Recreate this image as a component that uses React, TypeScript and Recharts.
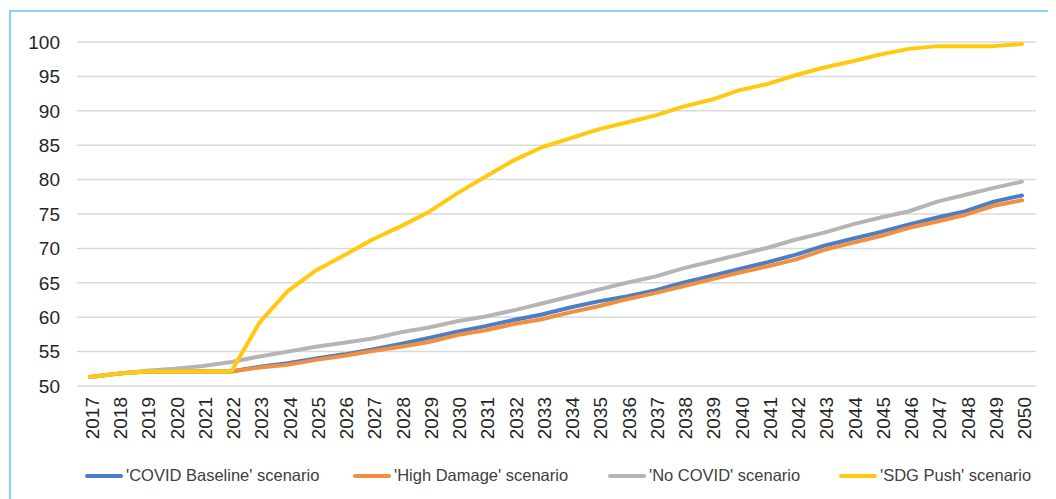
import React from 'react';
import { LineChart, Line, XAxis, YAxis, CartesianGrid, Legend } from 'recharts';

const years = [
  '2017', '2018', '2019', '2020', '2021', '2022', '2023', '2024', '2025', '2026', '2027', '2028',
  '2029', '2030', '2031', '2032', '2033', '2034', '2035', '2036', '2037', '2038', '2039', '2040',
  '2041', '2042', '2043', '2044', '2045', '2046', '2047', '2048', '2049', '2050',
];

const covidBaseline = [
  51.3, 51.8, 52.1, 52.1, 52.1, 52.1, 52.8, 53.3, 54.0, 54.6, 55.3, 56.1, 57.0, 57.9, 58.7, 59.6, 60.4,
  61.4, 62.3, 63.0, 63.9, 65.0, 66.0, 67.0, 68.0, 69.1, 70.4, 71.4, 72.4, 73.5, 74.5, 75.4, 76.8, 77.7,
];
const highDamage = [
  51.3, 51.8, 52.1, 52.1, 52.1, 52.1, 52.7, 53.1, 53.8, 54.4, 55.1, 55.7, 56.4, 57.4, 58.1, 59.0, 59.7,
  60.7, 61.6, 62.6, 63.5, 64.5, 65.5, 66.5, 67.4, 68.4, 69.8, 70.8, 71.8, 73.0, 73.9, 74.9, 76.2, 77.0,
];
const noCovid = [
  51.3, 51.8, 52.2, 52.5, 52.9, 53.5, 54.3, 55.0, 55.7, 56.3, 56.9, 57.8, 58.5, 59.4, 60.1, 61.0, 62.0,
  63.0, 64.0, 65.0, 65.9, 67.1, 68.1, 69.1, 70.1, 71.3, 72.3, 73.5, 74.5, 75.4, 76.8, 77.8, 78.8, 79.7,
];
const sdgPush = [
  51.3, 51.8, 52.1, 52.1, 52.1, 52.1, 59.2, 63.8, 66.8, 69.0, 71.3, 73.2, 75.3, 78.0, 80.4, 82.8, 84.7,
  86.0, 87.3, 88.3, 89.3, 90.6, 91.6, 93.0, 93.9, 95.2, 96.3, 97.2, 98.2, 99.0, 99.4, 99.4, 99.4, 99.7,
];

const yTicks = [50, 55, 60, 65, 70, 75, 80, 85, 90, 95, 100];

const series = [
  { key: 'baseline', name: "'COVID Baseline' scenario", color: '#4a7ec7' },
  { key: 'damage', name: "'High Damage' scenario", color: '#f28e3f' },
  { key: 'nocovid', name: "'No COVID' scenario", color: '#b5b5b5' },
  { key: 'sdg', name: "'SDG Push' scenario", color: '#ffc90e' },
];

const legendSlots = [268, 255, 231, 200];

const data = years.map((year, i) => ({
  year,
  baseline: covidBaseline[i],
  damage: highDamage[i],
  nocovid: noCovid[i],
  sdg: sdgPush[i],
}));

const FONT = '"Liberation Sans", Arial, Helvetica, sans-serif';

const YearTick = (props: any) => {
  const { x, y, payload } = props;
  return (
    <g transform={`translate(${x},${y})`}>
      <text transform="rotate(-90)" x={0} y={0} dy={9} textAnchor="end" fill="#262626" fontSize={19} fontFamily={FONT}>
        {payload.value}
      </text>
    </g>
  );
};

const LegendContent = () => (
  <div style={{ display: 'flex', alignItems: 'center', paddingLeft: 77, fontFamily: FONT, fontSize: 16.5, color: '#404040' }}>
    {series.map((s, i) => (
      <div key={s.key} style={{ display: 'flex', alignItems: 'center', width: legendSlots[i], whiteSpace: 'nowrap' }}>
        <span style={{ display: 'inline-block', width: 38, height: 4, borderRadius: 2, background: s.color, marginRight: 3 }} />
        <span>{s.name}</span>
      </div>
    ))}
  </div>
);

export default function App() {
  return (
    <div style={{ position: 'relative', width: 1048, height: 491 }}>
      <div
        style={{
          position: 'absolute',
          left: 1,
          top: 2,
          right: -20,
          bottom: -20,
          borderLeft: '2px solid #84d4f5',
          borderTop: '2px solid #84d4f5',
        }}
      />
      <LineChart width={1048} height={491} data={data} margin={{ top: 34, right: 20, left: 0, bottom: 53 }}>
        <CartesianGrid vertical={false} stroke="#d9d9d9" strokeWidth={1.5} />
        <XAxis
          dataKey="year"
          interval={0}
          padding={{ left: 13, right: 14 }}
          tickLine={false}
          axisLine={false}
          tickSize={0}
          tickMargin={11}
          height={60}
          tick={<YearTick />}
        />
        <YAxis
          domain={[50, 100]}
          ticks={yTicks}
          width={69}
          tickLine={false}
          axisLine={false}
          tickSize={0}
          tickMargin={17}
          tick={{ fill: '#262626', fontSize: 19, fontFamily: FONT }}
        />
        <Legend
          content={<LegendContent />}
          wrapperStyle={{ position: 'absolute', top: 458, left: 0, bottom: 'auto', width: 1048, height: 0 }}
        />
        {series.map((s) => (
          <Line
            key={s.key}
            type="linear"
            dataKey={s.key}
            name={s.name}
            stroke={s.color}
            strokeWidth={4}
            strokeLinecap="round"
            strokeLinejoin="round"
            dot={false}
            activeDot={false}
            isAnimationActive={false}
          />
        ))}
      </LineChart>
    </div>
  );
}
